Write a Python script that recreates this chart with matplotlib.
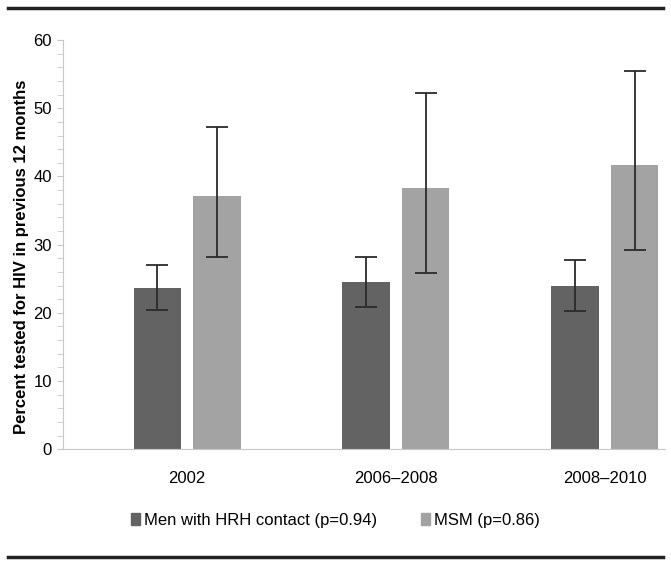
import numpy as np
import matplotlib.pyplot as plt
from matplotlib.lines import Line2D

# ---- Data ----
periods = ["2002", "2006\u20132008", "2008\u20132010"]
hrh = [23.6, 24.5, 23.9]
hrh_low = [20.4, 20.9, 20.3]
hrh_high = [27.0, 28.2, 27.7]
msm = [37.2, 38.3, 41.7]
msm_low = [28.2, 25.9, 29.2]
msm_high = [47.2, 52.3, 55.4]
labels = ["Men with HRH contact (p=0.94)", "MSM (p=0.86)"]

plt.rcParams['font.family'] = ['Liberation Sans', 'DejaVu Sans']

fig = plt.figure(figsize=(6.71, 5.73), dpi=100)
ax = fig.add_axes([0.094, 0.216, 0.897, 0.714])

x = np.arange(len(periods))
w = 0.225
off = 0.1435
dark = '#636363'
light = '#a3a3a3'

err_hrh = [np.array(hrh) - np.array(hrh_low), np.array(hrh_high) - np.array(hrh)]
err_msm = [np.array(msm) - np.array(msm_low), np.array(msm_high) - np.array(msm)]
ekw = dict(ecolor='#2b2b2b', elinewidth=1.3, capsize=8, capthick=1.3)

ax.bar(x - off, hrh, w, color=dark, yerr=err_hrh, error_kw=ekw)
ax.bar(x + off, msm, w, color=light, yerr=err_msm, error_kw=ekw)

ax.set_xlim(-0.593, 2.287)
ax.set_ylim(0, 60)
ax.set_yticks(np.arange(0, 61, 10))
ax.set_yticks(np.arange(0, 61, 2), minor=True)
ax.set_xticks(x)
ax.set_xticklabels(periods, fontsize=12)
ax.tick_params(axis='x', length=0, pad=16)
ax.tick_params(axis='y', which='both', direction='out', length=4, color='#c8c8c8',
               labelsize=12, pad=4)
for s in ['top', 'right']:
    ax.spines[s].set_visible(False)
ax.spines['left'].set_color('#c8c8c8')
ax.spines['bottom'].set_color('#c8c8c8')
ax.set_ylabel("Percent tested for HIV in previous 12 months", fontsize=12,
              fontweight='bold')
ax.yaxis.set_label_coords(-0.057, 0.47)

handles = [plt.Rectangle((0, 0), 1, 1, color=dark), plt.Rectangle((0, 0), 1, 1, color=light)]
fig.legend(handles, labels, loc='center', bbox_to_anchor=(0.5, 0.092), ncol=2,
           frameon=False, fontsize=12, handlelength=0.55, handleheight=0.7,
           handletextpad=0.25, columnspacing=2.6)

# horizontal rules at top and bottom
fig.add_artist(Line2D([0.012, 0.988], [0.986, 0.986], color='#222222', lw=2.5))
fig.add_artist(Line2D([0.012, 0.988], [0.028, 0.028], color='#222222', lw=2.5))

fig.savefig('out.png', dpi=100)
